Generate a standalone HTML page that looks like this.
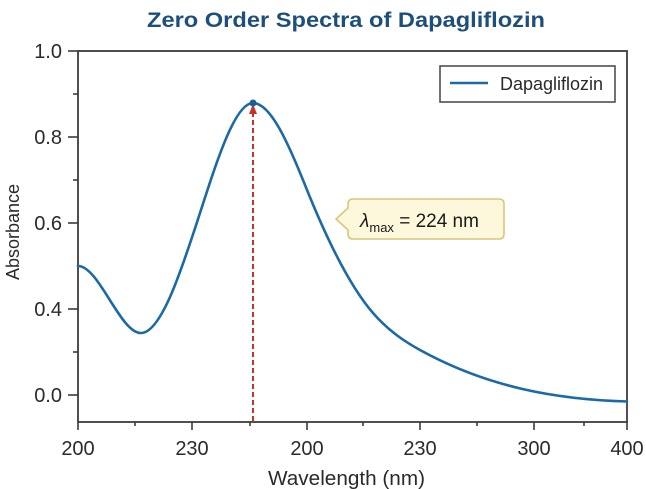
<!DOCTYPE html>
<html><head><meta charset="utf-8"><style>
html,body{margin:0;padding:0;background:#fff;}
svg{display:block;font-family:"Liberation Sans",Arial,sans-serif;}
</style></head><body>
<svg width="646" height="489" viewBox="0 0 646 489" xmlns="http://www.w3.org/2000/svg">
<rect width="646" height="489" fill="#fff"/>
<text x="147" y="27" font-size="21" font-weight="bold" fill="#1d4f7c" textLength="398" lengthAdjust="spacingAndGlyphs">Zero Order Spectra of Dapagliflozin</text>
<!-- frame -->
<rect x="78" y="51" width="549" height="371" fill="none" stroke="#3c3c3c" stroke-width="1.8"/>
<!-- y ticks -->
<g stroke="#3c3c3c" stroke-width="1.6">
<line x1="68" y1="51" x2="78" y2="51"/>
<line x1="68" y1="137" x2="78" y2="137"/>
<line x1="68" y1="223" x2="78" y2="223"/>
<line x1="68" y1="309" x2="78" y2="309"/>
<line x1="68" y1="395" x2="78" y2="395"/>
<line x1="73" y1="94" x2="78" y2="94"/>
<line x1="73" y1="180" x2="78" y2="180"/>
<line x1="73" y1="352" x2="78" y2="352"/>
<!-- x ticks -->
<line x1="78" y1="422" x2="78" y2="430"/>
<line x1="192" y1="422" x2="192" y2="430"/>
<line x1="307" y1="422" x2="307" y2="430"/>
<line x1="420" y1="422" x2="420" y2="430"/>
<line x1="534" y1="422" x2="534" y2="430"/>
<line x1="627" y1="422" x2="627" y2="430"/>
<line x1="135" y1="422" x2="135" y2="426"/>
<line x1="250" y1="422" x2="250" y2="426"/>
<line x1="363" y1="422" x2="363" y2="426"/>
<line x1="477" y1="422" x2="477" y2="426"/>
<line x1="584" y1="422" x2="584" y2="426"/>
</g>
<g font-size="20" fill="#2a2a2a" text-anchor="end">
<text x="62" y="58">1.0</text>
<text x="62" y="144">0.8</text>
<text x="62" y="230">0.6</text>
<text x="62" y="316">0.4</text>
<text x="62" y="402">0.0</text>
</g>
<g font-size="20" fill="#2a2a2a" text-anchor="middle">
<text x="78" y="455">200</text>
<text x="192" y="455">230</text>
<text x="307" y="455">200</text>
<text x="420" y="455">230</text>
<text x="534" y="455">300</text>
<text x="627" y="455">400</text>
</g>
<text x="268" y="485" font-size="20" fill="#2a2a2a" textLength="157" lengthAdjust="spacingAndGlyphs">Wavelength (nm)</text>
<text transform="translate(19,232) rotate(-90)" font-size="18" fill="#2a2a2a" text-anchor="middle">Absorbance</text>
<!-- dashed red line -->
<line x1="253" y1="112" x2="253" y2="423" stroke="#c8302c" stroke-width="2" stroke-dasharray="5,3"/>
<polygon points="253,104 249,114 257,114" fill="#c8302c"/>
<!-- curve -->
<path fill="none" stroke="#1b6aa5" stroke-width="2.6" stroke-linecap="round" d="M78,266 C99,266 120,333 141,333 C160.67,333 180.33,274 200,213 C217.67,158.2 235.33,103 253,103 C270.33,103 287.67,141.7 305,185 C327.67,241.7 350.33,286.9 373,313 C388.67,331 404.33,341.4 420,350 C489,388 558,399.4 627,401.5"/>
<circle cx="253" cy="103" r="3.5" fill="#1b5f95"/>
<!-- legend -->
<rect x="440" y="66" width="175" height="36" fill="#fff" stroke="#444" stroke-width="1.5"/>
<line x1="450" y1="83" x2="488" y2="83" stroke="#1b6aa5" stroke-width="2.6"/>
<text x="500" y="90" font-size="18" fill="#2a2a2a">Dapagliflozin</text>
<!-- callout -->
<path d="M353,199 H499 Q504,199 504,204 V234 Q504,239 499,239 H353 Q348,239 348,234 V230 L336,219 L348,208 V204 Q348,199 353,199 Z" fill="#fdf8dc" stroke="#d8c67a" stroke-width="1.6"/>
<text x="360" y="227" font-size="19" fill="#1a1a1a"><tspan font-style="italic">λ</tspan><tspan font-size="13" dy="5">max</tspan><tspan dy="-5"> = 224 nm</tspan></text>
</svg>
</body></html>
